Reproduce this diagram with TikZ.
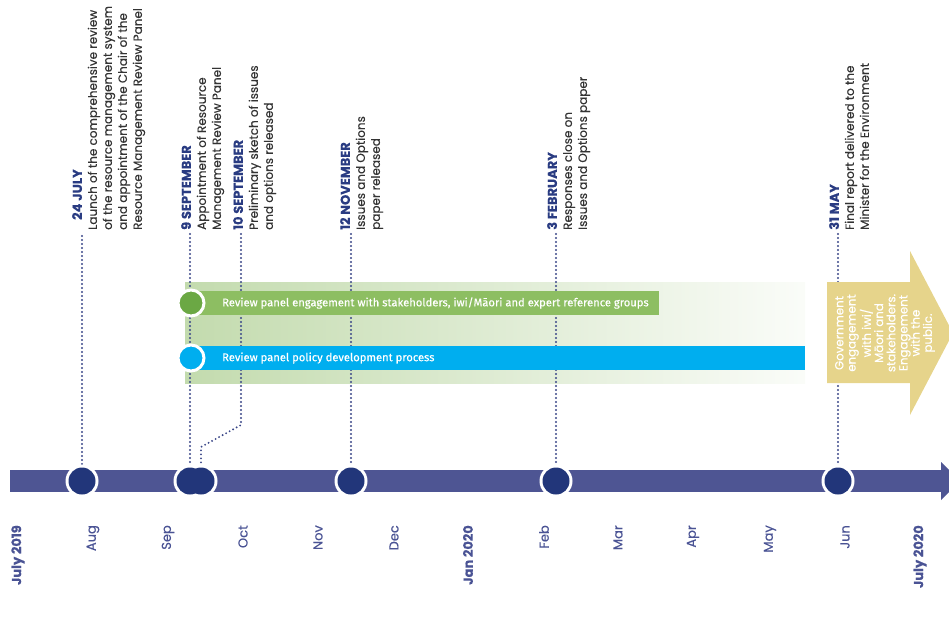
\documentclass[tikz,border=0pt]{standalone}
\usepackage{fontspec}
\setmainfont{Poppins}[FakeBold=0.3]
\newfontfamily\barfont{Fira Sans}[FakeBold=0.3]
\usetikzlibrary{calc}
\definecolor{navy}{HTML}{22367A}
\definecolor{titlenavy}{HTML}{2A3C82}
\definecolor{barnavy}{HTML}{4E5593}
\definecolor{labelnavy}{HTML}{4A5394}
\definecolor{dotnavy}{HTML}{3A4788}
\definecolor{gbar}{HTML}{8DBE62}
\definecolor{gdot}{HTML}{6BA844}
\definecolor{bbar}{HTML}{00AEEF}
\definecolor{gband}{HTML}{C3DBAE}
\definecolor{khaki}{HTML}{E6D48B}
\definecolor{bodytext}{HTML}{333333}
\tikzset{
  evt/.style={rotate=90, anchor=north west, inner sep=0pt, align=left, text=bodytext,
    font=\fontsize{12}{15}\selectfont},
  month/.style={rotate=90, anchor=east, inner sep=0pt, text=labelnavy,
    font=\fontsize{13}{15}\selectfont},
  bmonth/.style={month, font=\fontsize{13}{15}\selectfont\bfseries},
  dotline/.style={draw=dotnavy, line width=2.1pt, dash pattern=on 0pt off 4pt, line cap=round},
  tdot/.style={circle, fill=navy, inner sep=0pt, minimum size=27pt},
  pdot/.style={circle, draw=white, line width=3pt, inner sep=0pt, minimum size=26pt},
  bartext/.style={anchor=west, inner sep=0pt, text=white, font=\barfont\fontsize{11.2}{12}\selectfont},
}
\newcommand{\ttl}[1]{{\color{titlenavy}\fontsize{13}{15}\selectfont\bfseries #1}}
\begin{document}
\begin{tikzpicture}[x=1pt,y=-1pt]
\useasboundingbox (0,0) rectangle (949,619);
\clip (0,0) rectangle (949,619);

% event texts
\node[evt] (e1) at (72,230) {\hspace*{10pt}\ttl{24 JULY}\\Launch of the comprehensive review\\of the resource management system\\and appointment of the Chair of the\\Resource Management Review Panel};
\node[evt] (e2) at (181,230) {\ttl{9 SEPTEMBER}\\Appointment of Resource\\Management Review Panel};
\node[evt] (e3) at (233,230) {\ttl{10 SEPTEMBER}\\Preliminary sketch of issues\\and options released};
\node[evt] (e4) at (340,230) {\ttl{12 NOVEMBER}\\Issues and Options\\paper released};
\node[evt] (e5) at (547,230) {\ttl{3 FEBRUARY}\\Responses close on\\Issues and Options paper};
\node[evt] (e6) at (829,230) {\ttl{31 MAY}\\Final report delivered to the\\Minister for the Environment};

% dot positions on the timeline
\coordinate (p1) at (82,481);
\coordinate (p2) at (190,481);
\coordinate (p3) at (201,481);
\coordinate (p4) at (351,481);
\coordinate (p5) at (556,481);
\coordinate (p6) at (838,481);

% green band
\fill[left color=gband, right color=gband!8] (185,282) rectangle (805,383);

% dotted connectors
\draw[dotline] (p1 |- 0,236) -- (p1);
\draw[dotline] (p2 |- 0,234) -- (p2);
\coordinate (k1) at (241,425);
\coordinate (k2) at (201,447);
\draw[dotline] (241,234) -- (k1) -- (k2) -- (p3);
\draw[dotline] (p4 |- 0,234) -- (p4);
\draw[dotline] (p5 |- 0,234) -- (p5);
\draw[dotline] (p6 |- 0,234) -- (p6);

% bars
\fill[gbar] (190,291) rectangle (659,315);
\node[bartext] (gt) at (222,303) {Review panel engagement with stakeholders, iwi/Māori and expert reference groups};
\fill[bbar] (190,346) rectangle (805,370);
\node[bartext] (bt) at (222,358) {Review panel policy development process};
\node[pdot, fill=gdot] (gc) at (191,303) {};
\node[pdot, fill=bbar] (bc) at (191,358) {};

% yellow arrow
\fill[khaki] (827,282) -- (910,282) -- (910,251) -- (953,333) -- (910,415) -- (910,383) -- (827,383) -- cycle;
\node[rotate=90, inner sep=0pt, align=center, text=white, font=\fontsize{11.8}{12.2}\selectfont] (gov) at (885,333)
  {Government\\engagement\\with iwi/\\Māori and\\stakeholders.\\Engagement\\with the\\public.};

% timeline bar
\fill[barnavy] (10,470) rectangle (941,492);
\fill[barnavy] (941,462) -- (960,481) -- (941,500) -- cycle;

% dots
\foreach \p in {p1,p2,p3,p4,p5,p6} \fill[white] (\p) circle (16.5);
\node[tdot] (d1) at (p1) {};
\node[tdot] (d2) at (p2) {};
\node[tdot] (d3) at (p3) {};
\node[tdot] (d4) at (p4) {};
\node[tdot] (d5) at (p5) {};
\node[tdot] (d6) at (p6) {};

% month labels
\node[bmonth] (m0) at (18,525) {July 2019};
\node[month] (m1) at (93,525) {Aug};
\node[month] (m2) at (168,525) {Sep};
\node[month] (m3) at (243,525) {Oct};
\node[month] (m4) at (318,525) {Nov};
\node[month] (m5) at (394,525) {Dec};
\node[bmonth] (m6) at (468,525) {Jan 2020};
\node[month] (m7) at (544,525) {Feb};
\node[month] (m8) at (618,525) {Mar};
\node[month] (m9) at (693,525) {Apr};
\node[month] (m10) at (770,525) {May};
\node[month] (m11) at (845,525) {Jun};
\node[bmonth] (m12) at (920,525) {July 2020};
\end{tikzpicture}
\end{document}
